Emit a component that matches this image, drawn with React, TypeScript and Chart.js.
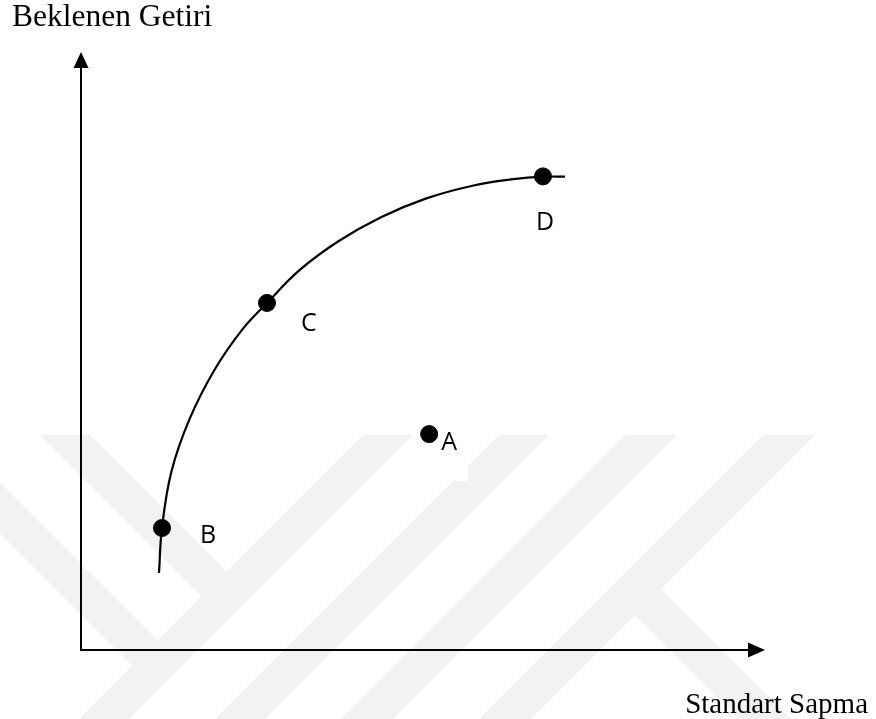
import { useEffect, useRef } from 'react';
import { Chart, registerables } from 'chart.js';

Chart.register(...registerables);

// ---- data (abstract units: Standart Sapma 0..100, Beklenen Getiri 0..100) ----
// efficient frontier
const curveX = [11.40, 11.84, 13.23, 15.88, 19.55, 23.57, 27.19, 31.99, 37.69, 43.86, 50.39, 57.24, 63.23, 67.54, 70.76];
const curveY = [12.88, 20.40, 29.88, 38.65, 46.91, 53.58, 58.03, 63.56, 68.39, 72.37, 75.48, 77.64, 78.73, 79.15, 79.15];
// portfolios
const pointNames = ['A', 'B', 'C', 'D'];
const pointX = [50.9, 11.84, 27.19, 67.54];
const pointY = [36.1, 20.4, 58.03, 79.2];
const xAxisTitle = 'Standart Sapma';
const yAxisTitle = 'Beklenen Getiri';

// label placement relative to each point (px)
const LABEL_OFFSETS: Record<string, [number, number]> = {
  A: [20, 7],
  B: [46, 6],
  C: [42, 19],
  D: [2, 45],
};

// faint background watermark (decoration)
const WM: [number, number][][] = [
  [[40, 435], [90, 435], [232, 577], [207, 602]],
  [[0, 483], [0, 533], [138, 671], [163, 646]],
  [[363, 435], [413, 435], [129, 719], [79, 719]],
  [[499, 435], [549, 435], [265, 719], [215, 719]],
  [[625, 435], [677, 435], [393, 719], [341, 719]],
  [[763, 435], [815, 435], [531, 719], [479, 719]],
  [[656, 584], [791, 719], [739, 719], [630, 610]],
];

const watermarkPlugin = {
  id: 'watermark',
  beforeDatasetsDraw(chart: any) {
    const ctx = chart.ctx as CanvasRenderingContext2D;
    ctx.save();
    ctx.fillStyle = '#f2f2f2';
    for (const poly of WM) {
      ctx.beginPath();
      poly.forEach(([x, y], i) => (i ? ctx.lineTo(x, y) : ctx.moveTo(x, y)));
      ctx.closePath();
      ctx.fill();
    }
    ctx.fillStyle = '#ffffff';
    ctx.fillRect(440, 433, 28, 48);
    ctx.restore();
  },
};

const axesPlugin = {
  id: 'arrowAxes',
  beforeDatasetsDraw(chart: any) {
    const ctx = chart.ctx as CanvasRenderingContext2D;
    const xs = chart.scales.x;
    const ys = chart.scales.y;
    const x0 = xs.getPixelForValue(0);
    const y0 = ys.getPixelForValue(0);
    const xEnd = xs.getPixelForValue(100);
    const yEnd = ys.getPixelForValue(100);
    ctx.save();
    ctx.strokeStyle = '#000';
    ctx.fillStyle = '#000';
    ctx.lineWidth = 2;
    ctx.beginPath();
    ctx.moveTo(x0, yEnd + 10);
    ctx.lineTo(x0, y0);
    ctx.lineTo(xEnd - 10, y0);
    ctx.stroke();
    // arrow heads
    ctx.beginPath();
    ctx.moveTo(x0, yEnd);
    ctx.lineTo(x0 - 7.5, yEnd + 16);
    ctx.lineTo(x0 + 7.5, yEnd + 16);
    ctx.closePath();
    ctx.fill();
    ctx.beginPath();
    ctx.moveTo(xEnd, y0);
    ctx.lineTo(xEnd - 17, y0 - 7.5);
    ctx.lineTo(xEnd - 17, y0 + 7.5);
    ctx.closePath();
    ctx.fill();
    // titles
    ctx.font = '31.5px "Liberation Serif"';
    ctx.textAlign = 'left';
    ctx.textBaseline = 'alphabetic';
    ctx.fillText(yAxisTitle, 12, 26);
    ctx.font = '29px "Liberation Serif"';
    ctx.textAlign = 'right';
    ctx.fillText(xAxisTitle, 868, 713);
    ctx.restore();
  },
  afterDatasetsDraw(chart: any) {
    const ctx = chart.ctx as CanvasRenderingContext2D;
    const meta = chart.getDatasetMeta(1);
    ctx.save();
    ctx.fillStyle = '#000';
    ctx.font = '25px "Open Sans"';
    ctx.textAlign = 'center';
    ctx.textBaseline = 'alphabetic';
    meta.data.forEach((el: any, i: number) => {
      const name = pointNames[i];
      const [dx, dy] = LABEL_OFFSETS[name] || [0, 0];
      ctx.fillText(name, el.x + dx, el.y + dy + 9);
    });
    ctx.restore();
  },
};

export default function App() {
  const ref = useRef<HTMLCanvasElement | null>(null);
  useEffect(() => {
    if (!ref.current) return;
    const chart = new Chart(ref.current, {
      type: 'scatter',
      data: {
        datasets: [
          {
            label: 'Etkin sınır',
            data: curveX.map((x, i) => ({ x, y: curveY[i] })),
            showLine: true,
            borderColor: '#000',
            borderWidth: 2.2,
            pointRadius: 0,
            tension: 0.4,
            fill: false,
          },
          {
            label: 'Portföyler',
            data: pointX.map((x, i) => ({ x, y: pointY[i] })),
            backgroundColor: '#000',
            borderColor: '#000',
            pointRadius: 8.5,
            pointHoverRadius: 8.5,
          },
        ],
      },
      options: {
        responsive: false,
        animation: false,
        devicePixelRatio: 1,
        layout: { padding: { left: 81, top: 52, right: 111, bottom: 69 } },
        scales: {
          x: { type: 'linear', min: 0, max: 100, display: false },
          y: { type: 'linear', min: 0, max: 100, display: false },
        },
        plugins: {
          legend: { display: false },
          tooltip: { enabled: false },
          title: { display: false },
        },
        events: [],
      } as any,
      plugins: [watermarkPlugin, axesPlugin],
    });
    return () => chart.destroy();
  }, []);
  return (
    <div style={{ position: 'fixed', left: 0, top: 0, width: 876, height: 719, background: '#fff' }}>
      <canvas ref={ref} width={876} height={719} style={{ display: 'block' }} />
    </div>
  );
}
